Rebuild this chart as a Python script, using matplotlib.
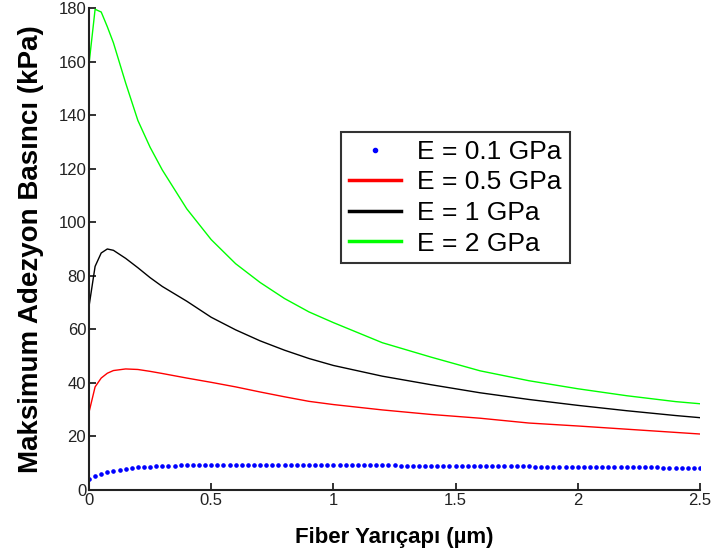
import numpy as np
import matplotlib
matplotlib.use('Agg')
import matplotlib.pyplot as plt

# sampled read-offs of the three solid curves (kPa)
x_line = [0, 0.025, 0.05, 0.075, 0.1, 0.15, 0.2, 0.25, 0.3, 0.4, 0.5, 0.6,
          0.7, 0.8, 0.9, 1.0, 1.2, 1.4, 1.6, 1.8, 2.0, 2.2, 2.4, 2.5]
p_05 = [29, 38.5, 41.8, 43.6, 44.6, 45.2, 45.0, 44.3, 43.5, 41.8, 40.2, 38.5,
        36.6, 34.8, 33.1, 31.9, 29.9, 28.2, 26.8, 25.0, 23.9, 22.7, 21.5, 20.9]
p_1 = [68.5, 83.5, 88.5, 90.0, 89.5, 86.5, 83.0, 79.3, 76.0, 70.5, 64.5, 59.8,
       55.7, 52.2, 49.1, 46.5, 42.5, 39.3, 36.3, 33.8, 31.6, 29.6, 27.8, 27.0]
p_2 = [159, 179.5, 178.5, 173, 167, 152, 138, 128, 119.5, 105, 93.5, 84.5,
       77.5, 71.5, 66.5, 62.5, 55.0, 49.6, 44.5, 40.8, 37.8, 35.2, 33.0, 32.2]

# dotted E = 0.1 GPa series, one point every 0.025 um
x_dots = np.linspace(0, 2.5, 101)
p_01 = ([4.0, 5.2, 6.0, 6.6, 7.2, 7.6, 7.9, 8.2, 8.4, 8.6,
         8.7, 8.9, 9.0, 9.0, 9.1, 9.2, 9.2, 9.3, 9.3, 9.4]
        + [9.4] * 31 + [9.0] * 22 + [8.6] * 21 + [8.2] * 7)

labels = ['E = 0.1 GPa', 'E = 0.5 GPa', 'E = 1 GPa', 'E = 2 GPa']

plt.rcParams['font.family'] = ['Liberation Sans', 'DejaVu Sans']

fig = plt.figure(figsize=(7.13, 5.58), dpi=100)
ax = fig.add_axes([0.1248, 0.1219, 0.857, 0.8638])

ax.plot(x_dots, p_01, linestyle='none', marker='o', markersize=2.3,
        color='#0000ff', label=labels[0])
ax.plot(x_line, p_05, color='#ff0000', lw=1.0, label=labels[1])
ax.plot(x_line, p_1, color='black', lw=1.0, label=labels[2])
ax.plot(x_line, p_2, color='#00ff00', lw=1.0, label=labels[3])

ax.set_xlim(0, 2.5)
ax.set_ylim(0, 180)
ax.set_xticks([0, 0.5, 1, 1.5, 2, 2.5])
ax.set_xticklabels(['0', '0.5', '1', '1.5', '2', '2.5'])
ax.set_yticks(np.arange(0, 181, 20))

for side in ('top', 'right'):
    ax.spines[side].set_visible(False)
for side in ('left', 'bottom'):
    ax.spines[side].set_linewidth(1.5)
    ax.spines[side].set_color('#222222')
ax.tick_params(direction='in', length=5, width=1.3, labelsize=12,
               colors='#222222', pad=2)

ax.set_xlabel('Fiber Yarıçapı (µm)', fontsize=16, fontweight='bold', labelpad=14)
ax.set_ylabel('Maksimum Adezyon Basıncı (kPa)', fontsize=20, fontweight='bold',
              labelpad=10)

leg = ax.legend(loc='upper left', bbox_to_anchor=(0.412, 0.743), borderaxespad=0,
                fontsize=19, frameon=True, fancybox=False, handlelength=2.0,
                handletextpad=0.6, labelspacing=0.25, borderpad=0.3,
                markerscale=1.3)
leg.get_frame().set_edgecolor('black')
leg.get_frame().set_linewidth(1.5)
for h in leg.legend_handles[1:]:
    h.set_linewidth(2.5)

fig.savefig('out.png', dpi=100)
